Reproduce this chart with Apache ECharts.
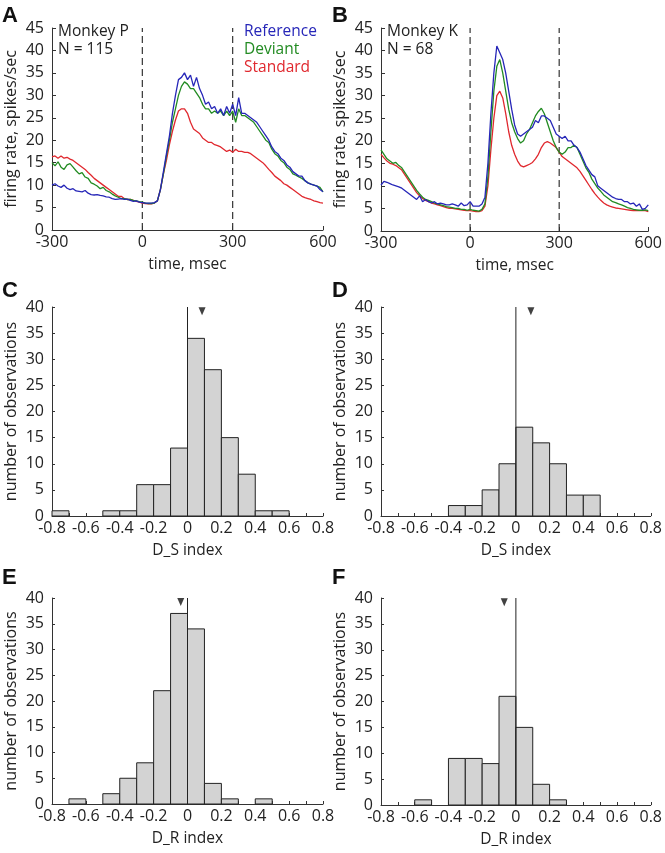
<!DOCTYPE html>
<html><head><meta charset="utf-8">
<script src="https://cdn.jsdelivr.net/npm/echarts@6/dist/echarts.min.js"></script>
<style>html,body{margin:0;padding:0;background:#fff}#c{width:665px;height:853px}</style>
</head><body><div id="c"></div><script>
// ---------- data ----------
const TIME_START = -300, TIME_STEP = 10, TIME_N = 91;
const TIME = Array.from({length: TIME_N}, (_, i) => TIME_START + TIME_STEP * i);

// Panel A (Monkey P)
const A_REFERENCE = [10.0,10.3,9.8,9.5,10.0,9.3,9.0,9.2,8.7,8.6,8.5,8.8,8.2,7.9,7.8,7.9,7.7,7.6,7.4,7.3,7.0,6.8,6.9,7.0,6.8,6.9,6.6,6.4,6.5,6.2,
  6.1,6.0,6.0,6.0,6.1,6.5,9,13,17,21,26,30,33.5,34,35,33.5,34.5,32,34,31.5,30,28,28.5,27,27.5,26,27,25.5,27.5,26,28,25.5,29.5,26,26,25.5,25,24.5,24,23,22,21,20,18.5,17.5,17,16,15.5,14.5,14,13,12.5,12,12,11,10.5,10.2,10,9.8,9.0,8.5];
const A_DEVIANT = [15,14.3,15.2,14,13.5,14.5,14.8,14,13.2,12.5,12.8,11.8,11.5,10.5,10.2,9.8,9.2,9.5,8.8,8.5,8.0,7.6,7.3,7.0,7.0,6.8,6.8,6.6,6.5,6.3,
  6.2,6.0,5.9,5.9,6.0,6.5,9,12.5,16.5,20,24,27,30,32,33,32.5,31.5,31.5,30.5,29.5,28,27,27,26,26.5,26,26.5,25.5,26.5,25.5,26.5,24,27,25.5,25.5,25,24.5,24,23,22,21,20,19.5,18,17,16.5,15.5,15,14,13.5,12.5,12.2,11.8,11.5,11,10.5,10.2,10,9.8,9.5,8.5];
const A_STANDARD = [16.3,16.5,16.0,16.5,16.0,16.2,15.8,15.5,15.0,14.5,14.0,13.5,12.8,12.2,11.5,11.0,10.5,10.0,9.5,9.0,8.5,8.0,7.5,7.5,7.0,6.8,6.8,6.6,6.4,6.2,
  6.0,5.9,5.8,5.8,6.0,6.5,9,12.5,15.5,19,22,24.5,26.5,27,27,26,24,22.5,22,21.5,20.5,20,19.5,19.5,19,18.8,18.5,18,17.5,17.8,17.3,18,17.5,17.5,17.3,17.3,17,16.5,16,15.5,15,14.3,13.5,12.8,12,11.5,11,10.3,10,9.5,9,8.5,8,7.5,7.2,7,6.8,6.5,6.3,6.1,6.0];

// Panel B (Monkey K)
const B_REFERENCE = [10.2,11.0,10.8,10.5,10.2,10.0,9.8,9.5,9.0,8.5,8.0,7.5,7.0,7.8,6.5,7.0,6.5,6.2,6.5,6.0,6.2,6.0,5.8,5.8,6.0,5.8,5.5,6.2,5.6,5.8,
  6.5,5.5,5.5,5.5,6.0,7.5,15,26,35,41,39.5,38,35,31,27,23.5,21.5,21,21.5,22,22.5,23,24.5,24,25.5,25.5,25,24.5,23,21.5,21,20.5,21,20,20,19,18.5,17.5,16,14.5,13.5,12.5,12,10,9.5,9,8.5,8,7.5,7.2,7,7,6.5,6.5,6.0,6.2,5.5,6.0,4.8,5.0,5.8];
const B_DEVIANT = [18.0,17.0,16.0,15.5,15.0,15.2,14.5,14.0,13.0,12.0,11.0,10.0,9.0,8.2,7.5,7.0,6.8,6.5,6.2,6.0,5.8,5.6,5.4,5.3,5.2,5.0,5.0,4.8,4.8,4.6,
  4.8,4.6,4.5,4.4,4.8,6.0,12,22,31,36.5,38,35,31,27,24,22,20.5,19.5,20,21.5,22.5,24,25.5,26.5,27.2,26,24,22,20,18.5,17.5,17,17.5,18.5,18.5,19,18.5,17,15.5,14,13,11.5,10.5,9.5,8.8,8.0,7.5,7,6.5,6.3,6,5.8,5.5,5.2,5,4.8,4.7,4.6,4.6,4.7,4.5];
const B_STANDARD = [17.0,16.2,15.5,15.0,14.8,14.5,14.0,13.5,12.5,11.5,10.5,9.5,8.5,7.8,7.2,6.8,6.5,6.2,6.0,5.8,5.6,5.4,5.2,5.0,5.0,4.9,4.8,4.7,4.6,4.5,
  4.5,4.4,4.3,4.3,4.5,5.5,10,18,25,30,31,29.5,26,22,19,17,15.5,14.5,14.2,14.5,14.8,15.2,16,17,18.5,19.5,19.8,19.5,19,18.5,17.5,16.5,16,15.5,15,14.5,14,13.2,12.2,11.2,10.2,9.2,8.3,7.5,6.8,6.2,5.8,5.5,5.3,5.1,5,4.9,4.8,4.7,4.6,4.5,4.5,4.5,4.5,4.5,4.3];

const STIM_LINES = [0, 300];

// Histograms: bin left edges, width 0.1
const BIN_LEFT = [-0.8,-0.7,-0.6,-0.5,-0.4,-0.3,-0.2,-0.1,0,0.1,0.2,0.3,0.4,0.5,0.6,0.7];
const BIN_WIDTH = 0.1;
const C_COUNTS = [1,0,0,1,1,6,6,13,34,28,15,8,1,1,0,0];
const D_COUNTS = [0,0,0,0,2,2,5,10,17,14,10,4,4,0,0,0];
const E_COUNTS = [0,1,0,2,5,8,22,37,34,4,1,0,1,0,0,0];
const F_COUNTS = [0,0,1,0,9,9,8,21,15,4,1,0,0,0,0,0];
const C_MEAN = 0.086, D_MEAN = 0.089, E_MEAN = -0.04, F_MEAN = -0.069;

// ---------- styling ----------
const BLUE = '#2626b8', GREEN = '#228b22', RED = '#e0282e';
const AX = '#333';
const FONT = 'Open Sans';
const LBL = {fontFamily: FONT, fontSize: 16, color: '#222'};

const grids = [
  {left: 52, top: 28, width: 271, height: 202},
  {left: 381, top: 28, width: 270, height: 203},
  {left: 52, top: 307, width: 271, height: 209},
  {left: 381, top: 307, width: 270, height: 209},
  {left: 52, top: 598, width: 271, height: 206},
  {left: 381, top: 598, width: 270, height: 207}
];

function xLine(i) {
  return {type: 'value', gridIndex: i, min: -300, max: 600, interval: 300,
    axisLine: {show: true, onZero: false, lineStyle: {color: AX, width: 1}},
    axisTick: {show: true, inside: true, length: 4, lineStyle: {color: AX}},
    splitLine: {show: false},
    axisLabel: Object.assign({margin: 4}, LBL),
    name: 'time, msec', nameLocation: 'middle', nameGap: 27,
    nameTextStyle: {fontFamily: FONT, fontSize: 15.5, color: '#222'}};
}
function yLine(i) {
  return {type: 'value', gridIndex: i, min: 0, max: 45, interval: 5,
    axisLine: {show: true, onZero: false, lineStyle: {color: AX, width: 1}},
    axisTick: {show: true, inside: true, length: 4, lineStyle: {color: AX}},
    splitLine: {show: false},
    axisLabel: Object.assign({margin: 8}, LBL),
    name: 'firing rate, spikes/sec', nameLocation: 'middle', nameGap: 33,
    nameTextStyle: {fontFamily: FONT, fontSize: 16, color: '#222'}};
}
function xHist(i, nm) {
  return {type: 'value', gridIndex: i, min: -0.8, max: 0.8, interval: 0.2,
    axisLine: {show: true, onZero: false, lineStyle: {color: AX, width: 1}},
    axisTick: {show: true, inside: true, length: 3, lineStyle: {color: AX}},
    minorTick: {show: true, splitNumber: 2, length: 3, lineStyle: {color: AX}},
    splitLine: {show: false},
    axisLabel: Object.assign({margin: 4, hideOverlap: false, formatter: v => String(Math.round(v * 10) / 10)}, LBL),
    name: nm, nameLocation: 'middle', nameGap: 27,
    nameTextStyle: {fontFamily: FONT, fontSize: 15.5, color: '#222'}};
}
function yHist(i) {
  return {type: 'value', gridIndex: i, min: 0, max: 40, interval: 5,
    axisLine: {show: true, onZero: false, lineStyle: {color: AX, width: 1}},
    axisTick: {show: true, inside: true, length: 3, lineStyle: {color: AX}},
    splitLine: {show: false},
    axisLabel: Object.assign({margin: 8}, LBL),
    name: 'number of observations', nameLocation: 'middle', nameGap: 33,
    nameTextStyle: {fontFamily: FONT, fontSize: 16, color: '#222'}};
}

function zip(xs, ys) { return xs.map((x, k) => [x, ys[k]]); }

function lineSeries(i, vals, color, name) {
  return {type: 'line', name, xAxisIndex: i, yAxisIndex: i, data: zip(TIME, vals),
    showSymbol: false, symbol: 'none', lineStyle: {color, width: 1.3}, itemStyle: {color}, z: 3, animation: false};
}
function stimSeries(i) {
  return STIM_LINES.map(t => ({type: 'line', xAxisIndex: i, yAxisIndex: i,
    data: [[t, 0], [t, 45]], symbol: 'none',
    lineStyle: {color: '#333', width: 1.2, type: [7, 4]}, z: 1, animation: false}));
}
function renderBar(params, api) {
  const y = api.value(2);
  if (!y) return;
  const p0 = api.coord([api.value(0), y]);
  const p1 = api.coord([api.value(1), 0]);
  return {type: 'rect', shape: {x: p0[0], y: p0[1], width: p1[0] - p0[0], height: p1[1] - p0[1]},
    style: {fill: '#d3d3d3', stroke: '#222', lineWidth: 1}};
}
function histSeries(i, counts, mean) {
  return [
    {type: 'custom', xAxisIndex: i, yAxisIndex: i, renderItem: renderBar,
      data: BIN_LEFT.map((b, k) => [b, b + BIN_WIDTH, counts[k]]), z: 2, animation: false},
    {type: 'line', xAxisIndex: i, yAxisIndex: i, data: [[0, 0], [0, 40]], symbol: 'none',
      lineStyle: {color: '#222', width: 1}, z: 3, animation: false},
    {type: 'scatter', xAxisIndex: i, yAxisIndex: i, data: [[mean, 39.2]], symbol: 'triangle',
      symbolRotate: 180, symbolSize: [7, 8], itemStyle: {color: '#111'}, z: 4, animation: false}
  ];
}

const letter = (t, x, y) => ({type: 'text', left: x, top: y,
  style: {text: t, fontFamily: 'Liberation Sans', fontWeight: 'bold', fontSize: 22, fill: '#111'}});
const txt = (t, x, y, color) => ({type: 'text', left: x, top: y,
  style: {text: t, fontFamily: FONT, fontSize: 15.5, fill: color || '#222'}});

const option = {
  backgroundColor: '#fff',
  animation: false,
  grid: grids,
  xAxis: [xLine(0), xLine(1), xHist(2, 'D_S index'), xHist(3, 'D_S index'), xHist(4, 'D_R index'), xHist(5, 'D_R index')],
  yAxis: [yLine(0), yLine(1), yHist(2), yHist(3), yHist(4), yHist(5)],
  series: [
    ...stimSeries(0), ...stimSeries(1),
    lineSeries(0, A_STANDARD, RED, 'Standard'),
    lineSeries(0, A_DEVIANT, GREEN, 'Deviant'),
    lineSeries(0, A_REFERENCE, BLUE, 'Reference'),
    lineSeries(1, B_STANDARD, RED, 'Standard'),
    lineSeries(1, B_DEVIANT, GREEN, 'Deviant'),
    lineSeries(1, B_REFERENCE, BLUE, 'Reference'),
    ...histSeries(2, C_COUNTS, C_MEAN),
    ...histSeries(3, D_COUNTS, D_MEAN),
    ...histSeries(4, E_COUNTS, E_MEAN),
    ...histSeries(5, F_COUNTS, F_MEAN)
  ],
  graphic: [
    letter('A', 2, 5), letter('B', 332, 5),
    letter('C', 2, 280), letter('D', 332, 280),
    letter('E', 2, 567), letter('F', 332, 567),
    txt('Monkey P', 58, 24), txt('N = 115', 58, 42),
    txt('Monkey K', 387, 24), txt('N = 68', 387, 42),
    txt('Reference', 244, 24, BLUE), txt('Deviant', 244, 42, GREEN), txt('Standard', 244, 60, RED)
  ]
};
const chart = echarts.init(document.getElementById('c'), null, {renderer: 'canvas'});
chart.setOption(option);
</script></body></html>
